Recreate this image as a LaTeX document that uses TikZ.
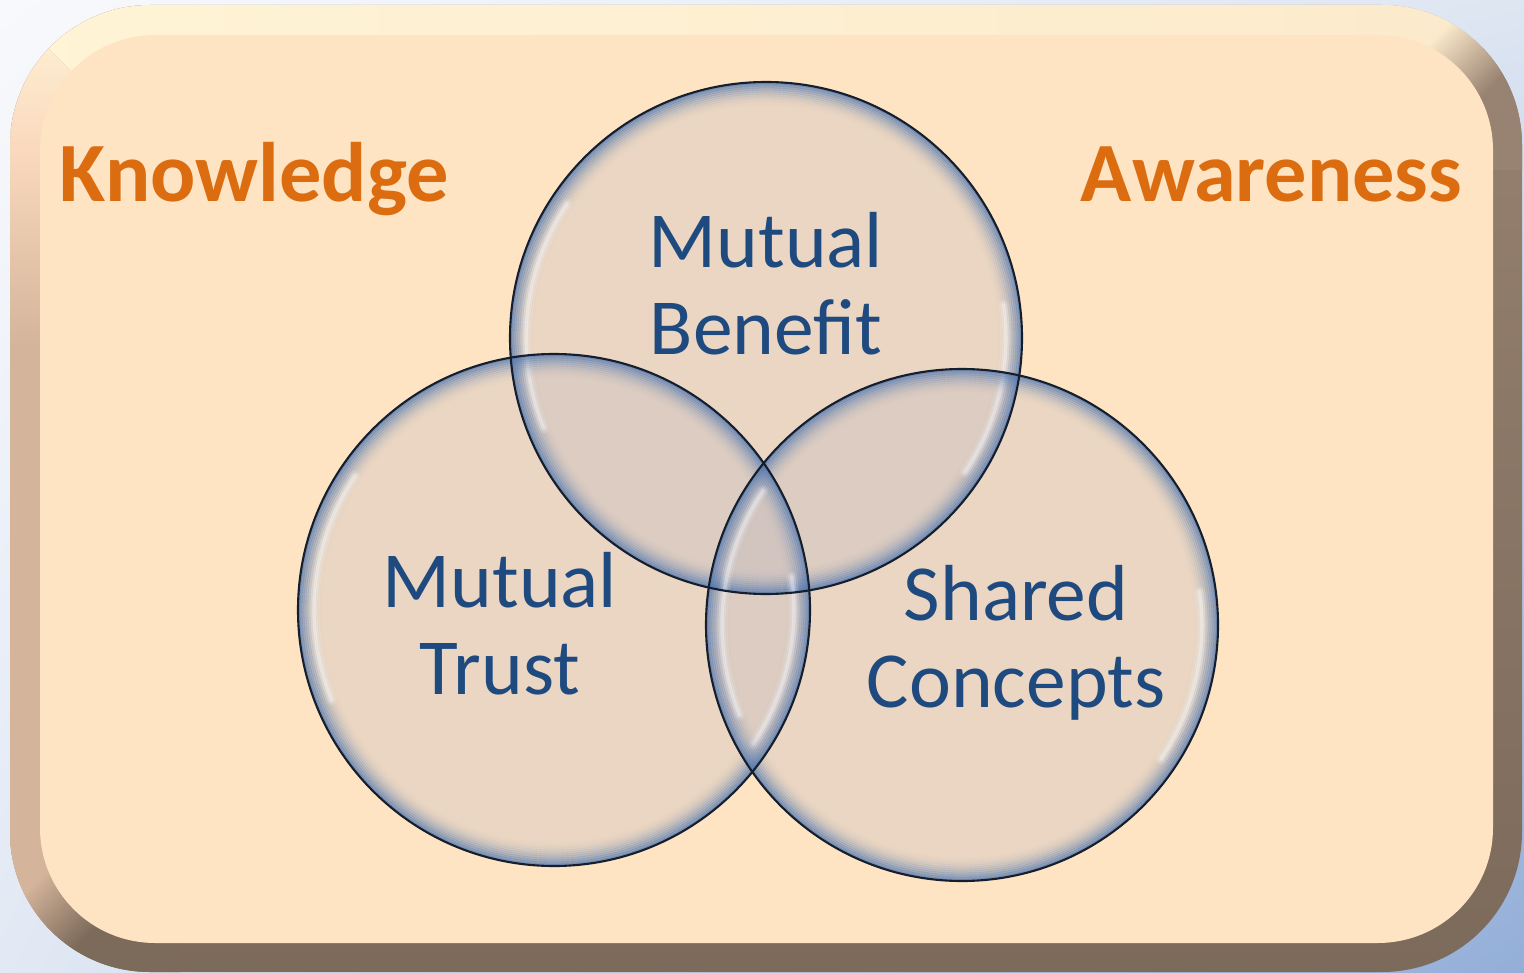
\documentclass[tikz,border=0pt]{standalone}
\usepackage{fontspec}
\setmainfont{Carlito}
\usetikzlibrary{shadings}
\definecolor{peach}{RGB}{255,228,195}
\definecolor{cream}{RGB}{255,244,214}
\definecolor{creamright}{RGB}{252,234,204}
\definecolor{pinkpeach}{RGB}{250,217,190}
\definecolor{tan}{RGB}{212,180,154}
\definecolor{browntop}{RGB}{152,130,113}
\definecolor{brownbottom}{RGB}{124,106,90}
\definecolor{skyul}{RGB}{248,249,252}
\definecolor{skyur}{RGB}{222,230,242}
\definecolor{skyll}{RGB}{226,233,244}
\definecolor{skylr}{RGB}{147,174,216}
\definecolor{rimblue}{RGB}{79,118,175}
\definecolor{edgeline}{RGB}{20,30,45}
\definecolor{labelblue}{RGB}{31,74,128}
\definecolor{headorange}{RGB}{220,108,16}
\definecolor{bubblefill}{RGB}{188,184,192}
\pgfdeclareverticalshading{leftbevel}{100bp}{color(0bp)=(tan); color(57bp)=(tan); color(67bp)=(pinkpeach); color(74bp)=(cream); color(100bp)=(cream)}
\pgfdeclarehorizontalshading{trcorner}{100bp}{color(0bp)=(creamright); color(40bp)=(creamright); color(60bp)=(browntop); color(100bp)=(browntop)}
\pgfdeclarehorizontalshading{blcorner}{100bp}{color(0bp)=(tan); color(40bp)=(tan); color(60bp)=(brownbottom); color(100bp)=(brownbottom)}

\begin{document}
\begin{tikzpicture}[x=0.01cm, y=-0.01cm,
  bubbletext/.style={text=labelblue, font=\fontsize{22.6}{24.7}\selectfont, align=center, inner sep=0pt, text depth=0pt, anchor=south},
  headword/.style={text=headorange, font=\bfseries\fontsize{24}{26}\selectfont, inner sep=0pt}]
\useasboundingbox (0,0) rectangle (1524,973);
%----------------------------------------
\shade[upper left=skyul, upper right=skyur, lower left=skyll, lower right=skylr] (0,0) rectangle (1524,973);
%----------------------------------------
\shade[top color=browntop, bottom color=brownbottom, rounded corners=1.4cm] (10,5) rectangle (1522,972);
\begin{scope}
\clip[rounded corners=1.4cm] (10,5) rectangle (1522,972);
\shade[shading=leftbevel] (-10,-10) -- (230,230) -- (230,740) -- (-10,980) -- cycle;
\shade[left color=cream, right color=creamright] (-10,-10) -- (1540,-10) -- (1300,230) -- (230,230) -- cycle;
% soft corners
\shade[shading=trcorner, shading angle=-45] (1355,-20) rectangle (1545,170);
\shade[shading=blcorner, shading angle=-45] (-10,790) rectangle (180,980);
\end{scope}
\fill[peach, rounded corners=1.15cm] (40,35) rectangle (1493,943);
%----------------------------------------
\coordinate (benefit) at (766,338);
\coordinate (trust) at (554,610);
\coordinate (concepts) at (962,625);
%----------------------------------------
\foreach \c in {benefit,trust,concepts}
  \fill[bubblefill, opacity=0.3] (\c) circle (256);
\foreach \c in {benefit,trust,concepts} {
  \foreach \i in {0,...,11} {
    \pgfmathsetmacro\op{0.7*(1-\i/12)^2}
    \draw[rimblue, line width=0.65pt, opacity=\op] (\c) circle ({255-2*\i});
  }
  \foreach \w/\o in {3.2pt/0.12, 2pt/0.18, 1pt/0.3} {
    \draw[white, line width=\w, opacity=\o, line cap=round] (\c) ++(158:240) arc[start angle=158, end angle=214, radius=240];
    \draw[white, line width=\w, opacity=\o, line cap=round] (\c) ++(-8:240) arc[start angle=-8, end angle=34, radius=240];
  }
}
\foreach \c in {benefit,trust,concepts}
  \draw[edgeline, line width=0.6pt] (\c) circle (256);
%----------------------------------------
\node[headword, anchor=base west] (knowledge) at (59,202) {Knowledge};
\node[headword, anchor=base east] (awareness) at (1463,202) {Awareness};
\node[bubbletext] (benefitlabel) at (766,355) {Mutual\\Benefit};
\node[bubbletext] (trustlabel) at (500,695) {Mutual\\Trust};
\node[bubbletext] (conceptslabel) at (1016,708) {Shared\\Concepts};
\end{tikzpicture}
\end{document}
